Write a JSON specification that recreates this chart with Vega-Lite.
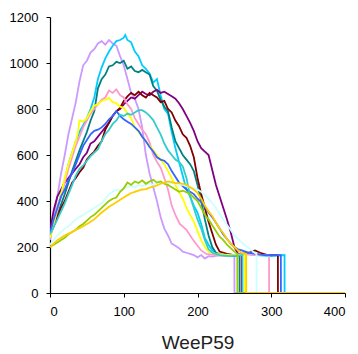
{
"$schema":"https://vega.github.io/schema/vega-lite/v6.json",
"width":295,"height":276,
"autosize":{"type":"none"},
"padding":{"left":50,"top":17,"right":13,"bottom":61},
"config":{"view":{"stroke":null},"font":"Liberation Sans"},
"datasets":{"d":[
{"s":"a","x":0,"y":230},{"s":"a","x":5,"y":330},{"s":"a","x":10,"y":420},{"s":"a","x":15,"y":520},{"s":"a","x":20,"y":600},{"s":"a","x":25,"y":690},{"s":"a","x":30,"y":760},{"s":"a","x":35,"y":830},{"s":"a","x":40,"y":920},{"s":"a","x":45,"y":990},{"s":"a","x":50,"y":1010},{"s":"a","x":55,"y":1045},{"s":"a","x":60,"y":1060},{"s":"a","x":65,"y":1085},{"s":"a","x":70,"y":1095},{"s":"a","x":75,"y":1080},{"s":"a","x":80,"y":1100},{"s":"a","x":85,"y":1085},{"s":"a","x":90,"y":1075},{"s":"a","x":95,"y":1030},{"s":"a","x":100,"y":990},{"s":"a","x":105,"y":930},{"s":"a","x":110,"y":870},{"s":"a","x":115,"y":845},{"s":"a","x":120,"y":800},{"s":"a","x":125,"y":720},{"s":"a","x":130,"y":600},{"s":"a","x":135,"y":520},{"s":"a","x":140,"y":460},{"s":"a","x":145,"y":400},{"s":"a","x":150,"y":330},{"s":"a","x":155,"y":280},{"s":"a","x":160,"y":250},{"s":"a","x":165,"y":215},{"s":"a","x":170,"y":205},{"s":"a","x":175,"y":195},{"s":"a","x":180,"y":180},{"s":"a","x":185,"y":175},{"s":"a","x":190,"y":170},{"s":"a","x":195,"y":165},{"s":"a","x":200,"y":155},{"s":"a","x":205,"y":165},{"s":"a","x":210,"y":150},{"s":"a","x":215,"y":160},{"s":"a","x":220,"y":158},{"s":"a","x":230,"y":165},{"s":"a","x":240,"y":160},{"s":"a","x":250,"y":162},{"s":"a","x":250.1,"y":0},{"s":"a","x":400,"y":0},
{"s":"b","x":0,"y":250},{"s":"b","x":5,"y":310},{"s":"b","x":10,"y":370},{"s":"b","x":15,"y":430},{"s":"b","x":20,"y":490},{"s":"b","x":25,"y":560},{"s":"b","x":30,"y":610},{"s":"b","x":35,"y":660},{"s":"b","x":40,"y":700},{"s":"b","x":45,"y":730},{"s":"b","x":50,"y":760},{"s":"b","x":55,"y":800},{"s":"b","x":60,"y":850},{"s":"b","x":65,"y":930},{"s":"b","x":70,"y":980},{"s":"b","x":75,"y":1020},{"s":"b","x":80,"y":1050},{"s":"b","x":85,"y":1075},{"s":"b","x":90,"y":1095},{"s":"b","x":95,"y":1100},{"s":"b","x":100,"y":1110},{"s":"b","x":102,"y":1122},{"s":"b","x":105,"y":1100},{"s":"b","x":110,"y":1090},{"s":"b","x":115,"y":1050},{"s":"b","x":120,"y":1030},{"s":"b","x":125,"y":990},{"s":"b","x":130,"y":975},{"s":"b","x":135,"y":955},{"s":"b","x":140,"y":915},{"s":"b","x":145,"y":930},{"s":"b","x":150,"y":860},{"s":"b","x":155,"y":800},{"s":"b","x":160,"y":780},{"s":"b","x":165,"y":700},{"s":"b","x":170,"y":630},{"s":"b","x":175,"y":570},{"s":"b","x":180,"y":510},{"s":"b","x":185,"y":450},{"s":"b","x":190,"y":420},{"s":"b","x":195,"y":380},{"s":"b","x":200,"y":350},{"s":"b","x":205,"y":300},{"s":"b","x":210,"y":240},{"s":"b","x":215,"y":210},{"s":"b","x":220,"y":185},{"s":"b","x":225,"y":170},{"s":"b","x":235,"y":165},{"s":"b","x":250,"y":160},{"s":"b","x":265,"y":170},{"s":"b","x":280,"y":165},{"s":"b","x":300,"y":160},{"s":"b","x":318,"y":165},{"s":"b","x":318.1,"y":0},{"s":"b","x":400,"y":0},
{"s":"c","x":0,"y":260},{"s":"c","x":10,"y":340},{"s":"c","x":20,"y":430},{"s":"c","x":30,"y":530},{"s":"c","x":40,"y":620},{"s":"c","x":50,"y":700},{"s":"c","x":55,"y":750},{"s":"c","x":60,"y":790},{"s":"c","x":65,"y":890},{"s":"c","x":70,"y":930},{"s":"c","x":75,"y":950},{"s":"c","x":80,"y":985},{"s":"c","x":85,"y":990},{"s":"c","x":90,"y":1005},{"s":"c","x":95,"y":1000},{"s":"c","x":100,"y":1010},{"s":"c","x":105,"y":975},{"s":"c","x":110,"y":985},{"s":"c","x":115,"y":965},{"s":"c","x":120,"y":960},{"s":"c","x":125,"y":970},{"s":"c","x":130,"y":960},{"s":"c","x":135,"y":950},{"s":"c","x":140,"y":900},{"s":"c","x":145,"y":880},{"s":"c","x":150,"y":840},{"s":"c","x":155,"y":810},{"s":"c","x":160,"y":790},{"s":"c","x":165,"y":720},{"s":"c","x":170,"y":660},{"s":"c","x":175,"y":630},{"s":"c","x":180,"y":600},{"s":"c","x":185,"y":580},{"s":"c","x":190,"y":560},{"s":"c","x":195,"y":530},{"s":"c","x":200,"y":470},{"s":"c","x":205,"y":400},{"s":"c","x":210,"y":320},{"s":"c","x":215,"y":250},{"s":"c","x":220,"y":200},{"s":"c","x":225,"y":175},{"s":"c","x":235,"y":165},{"s":"c","x":245,"y":160},{"s":"c","x":257,"y":165},{"s":"c","x":257.1,"y":0},{"s":"c","x":400,"y":0},
{"s":"d","x":0,"y":270},{"s":"d","x":5,"y":360},{"s":"d","x":10,"y":420},{"s":"d","x":15,"y":450},{"s":"d","x":20,"y":480},{"s":"d","x":25,"y":500},{"s":"d","x":30,"y":520},{"s":"d","x":35,"y":540},{"s":"d","x":40,"y":560},{"s":"d","x":45,"y":590},{"s":"d","x":50,"y":610},{"s":"d","x":55,"y":650},{"s":"d","x":60,"y":660},{"s":"d","x":65,"y":680},{"s":"d","x":70,"y":700},{"s":"d","x":75,"y":720},{"s":"d","x":80,"y":740},{"s":"d","x":85,"y":770},{"s":"d","x":90,"y":790},{"s":"d","x":95,"y":800},{"s":"d","x":100,"y":820},{"s":"d","x":105,"y":835},{"s":"d","x":110,"y":850},{"s":"d","x":115,"y":845},{"s":"d","x":120,"y":860},{"s":"d","x":125,"y":875},{"s":"d","x":130,"y":865},{"s":"d","x":135,"y":860},{"s":"d","x":140,"y":875},{"s":"d","x":145,"y":883},{"s":"d","x":150,"y":870},{"s":"d","x":155,"y":875},{"s":"d","x":160,"y":865},{"s":"d","x":165,"y":855},{"s":"d","x":170,"y":845},{"s":"d","x":175,"y":825},{"s":"d","x":180,"y":800},{"s":"d","x":185,"y":770},{"s":"d","x":190,"y":740},{"s":"d","x":195,"y":705},{"s":"d","x":200,"y":660},{"s":"d","x":205,"y":630},{"s":"d","x":210,"y":615},{"s":"d","x":215,"y":600},{"s":"d","x":220,"y":535},{"s":"d","x":225,"y":470},{"s":"d","x":230,"y":420},{"s":"d","x":235,"y":370},{"s":"d","x":240,"y":320},{"s":"d","x":245,"y":265},{"s":"d","x":250,"y":200},{"s":"d","x":255,"y":170},{"s":"d","x":260,"y":165},{"s":"d","x":260.1,"y":0},{"s":"d","x":400,"y":0},
{"s":"e","x":0,"y":250},{"s":"e","x":5,"y":290},{"s":"e","x":10,"y":330},{"s":"e","x":15,"y":370},{"s":"e","x":20,"y":400},{"s":"e","x":25,"y":440},{"s":"e","x":30,"y":480},{"s":"e","x":35,"y":500},{"s":"e","x":40,"y":525},{"s":"e","x":45,"y":545},{"s":"e","x":50,"y":580},{"s":"e","x":55,"y":600},{"s":"e","x":60,"y":615},{"s":"e","x":65,"y":640},{"s":"e","x":70,"y":660},{"s":"e","x":75,"y":710},{"s":"e","x":80,"y":740},{"s":"e","x":85,"y":770},{"s":"e","x":90,"y":790},{"s":"e","x":95,"y":805},{"s":"e","x":100,"y":835},{"s":"e","x":105,"y":855},{"s":"e","x":110,"y":870},{"s":"e","x":115,"y":860},{"s":"e","x":120,"y":875},{"s":"e","x":125,"y":860},{"s":"e","x":130,"y":850},{"s":"e","x":135,"y":870},{"s":"e","x":140,"y":860},{"s":"e","x":145,"y":850},{"s":"e","x":150,"y":830},{"s":"e","x":155,"y":835},{"s":"e","x":160,"y":800},{"s":"e","x":165,"y":785},{"s":"e","x":170,"y":750},{"s":"e","x":175,"y":725},{"s":"e","x":180,"y":690},{"s":"e","x":185,"y":675},{"s":"e","x":190,"y":640},{"s":"e","x":195,"y":590},{"s":"e","x":200,"y":500},{"s":"e","x":205,"y":430},{"s":"e","x":210,"y":370},{"s":"e","x":215,"y":310},{"s":"e","x":220,"y":260},{"s":"e","x":225,"y":210},{"s":"e","x":230,"y":180},{"s":"e","x":240,"y":170},{"s":"e","x":250,"y":165},{"s":"e","x":260,"y":170},{"s":"e","x":270,"y":175},{"s":"e","x":278,"y":185},{"s":"e","x":285,"y":175},{"s":"e","x":295,"y":165},{"s":"e","x":309,"y":165},{"s":"e","x":309.1,"y":0},{"s":"e","x":400,"y":0},
{"s":"f","x":0,"y":240},{"s":"f","x":5,"y":300},{"s":"f","x":10,"y":360},{"s":"f","x":15,"y":420},{"s":"f","x":20,"y":480},{"s":"f","x":25,"y":540},{"s":"f","x":30,"y":590},{"s":"f","x":35,"y":640},{"s":"f","x":40,"y":680},{"s":"f","x":45,"y":720},{"s":"f","x":50,"y":750},{"s":"f","x":55,"y":780},{"s":"f","x":60,"y":800},{"s":"f","x":65,"y":820},{"s":"f","x":70,"y":840},{"s":"f","x":75,"y":850},{"s":"f","x":80,"y":880},{"s":"f","x":85,"y":870},{"s":"f","x":90,"y":885},{"s":"f","x":95,"y":860},{"s":"f","x":100,"y":850},{"s":"f","x":105,"y":820},{"s":"f","x":110,"y":800},{"s":"f","x":115,"y":760},{"s":"f","x":120,"y":735},{"s":"f","x":125,"y":710},{"s":"f","x":130,"y":690},{"s":"f","x":135,"y":655},{"s":"f","x":140,"y":600},{"s":"f","x":145,"y":570},{"s":"f","x":150,"y":545},{"s":"f","x":155,"y":500},{"s":"f","x":160,"y":450},{"s":"f","x":165,"y":380},{"s":"f","x":170,"y":340},{"s":"f","x":176,"y":300},{"s":"f","x":185,"y":275},{"s":"f","x":192,"y":240},{"s":"f","x":199,"y":210},{"s":"f","x":205,"y":185},{"s":"f","x":212,"y":170},{"s":"f","x":225,"y":165},{"s":"f","x":240,"y":160},{"s":"f","x":260,"y":170},{"s":"f","x":280,"y":165},{"s":"f","x":297,"y":165},{"s":"f","x":297.1,"y":0},{"s":"f","x":400,"y":0},
{"s":"g","x":0,"y":240},{"s":"g","x":5,"y":300},{"s":"g","x":10,"y":370},{"s":"g","x":15,"y":430},{"s":"g","x":20,"y":500},{"s":"g","x":25,"y":560},{"s":"g","x":30,"y":610},{"s":"g","x":35,"y":660},{"s":"g","x":38,"y":700},{"s":"g","x":40,"y":750},{"s":"g","x":45,"y":745},{"s":"g","x":50,"y":760},{"s":"g","x":55,"y":790},{"s":"g","x":60,"y":815},{"s":"g","x":65,"y":820},{"s":"g","x":70,"y":835},{"s":"g","x":75,"y":840},{"s":"g","x":80,"y":848},{"s":"g","x":85,"y":830},{"s":"g","x":90,"y":825},{"s":"g","x":95,"y":810},{"s":"g","x":100,"y":805},{"s":"g","x":105,"y":780},{"s":"g","x":110,"y":760},{"s":"g","x":115,"y":720},{"s":"g","x":120,"y":700},{"s":"g","x":125,"y":680},{"s":"g","x":130,"y":660},{"s":"g","x":135,"y":640},{"s":"g","x":140,"y":620},{"s":"g","x":145,"y":600},{"s":"g","x":150,"y":580},{"s":"g","x":155,"y":560},{"s":"g","x":160,"y":530},{"s":"g","x":165,"y":500},{"s":"g","x":170,"y":470},{"s":"g","x":175,"y":440},{"s":"g","x":180,"y":410},{"s":"g","x":185,"y":370},{"s":"g","x":190,"y":340},{"s":"g","x":195,"y":310},{"s":"g","x":200,"y":270},{"s":"g","x":205,"y":230},{"s":"g","x":210,"y":200},{"s":"g","x":215,"y":180},{"s":"g","x":225,"y":170},{"s":"g","x":245,"y":165},{"s":"g","x":264,"y":165},{"s":"g","x":264.1,"y":0},{"s":"g","x":400,"y":0},
{"s":"h","x":0,"y":260},{"s":"h","x":5,"y":320},{"s":"h","x":10,"y":370},{"s":"h","x":15,"y":420},{"s":"h","x":20,"y":450},{"s":"h","x":25,"y":490},{"s":"h","x":30,"y":520},{"s":"h","x":35,"y":560},{"s":"h","x":40,"y":600},{"s":"h","x":45,"y":640},{"s":"h","x":50,"y":665},{"s":"h","x":55,"y":690},{"s":"h","x":60,"y":705},{"s":"h","x":65,"y":710},{"s":"h","x":70,"y":720},{"s":"h","x":75,"y":735},{"s":"h","x":80,"y":755},{"s":"h","x":85,"y":770},{"s":"h","x":90,"y":790},{"s":"h","x":95,"y":770},{"s":"h","x":100,"y":755},{"s":"h","x":105,"y":745},{"s":"h","x":110,"y":735},{"s":"h","x":115,"y":720},{"s":"h","x":120,"y":705},{"s":"h","x":125,"y":680},{"s":"h","x":130,"y":660},{"s":"h","x":135,"y":635},{"s":"h","x":140,"y":615},{"s":"h","x":145,"y":590},{"s":"h","x":150,"y":580},{"s":"h","x":155,"y":575},{"s":"h","x":160,"y":560},{"s":"h","x":165,"y":530},{"s":"h","x":170,"y":505},{"s":"h","x":175,"y":480},{"s":"h","x":180,"y":465},{"s":"h","x":185,"y":450},{"s":"h","x":190,"y":440},{"s":"h","x":195,"y":430},{"s":"h","x":200,"y":410},{"s":"h","x":205,"y":395},{"s":"h","x":210,"y":375},{"s":"h","x":215,"y":350},{"s":"h","x":220,"y":330},{"s":"h","x":225,"y":305},{"s":"h","x":230,"y":280},{"s":"h","x":235,"y":255},{"s":"h","x":240,"y":235},{"s":"h","x":245,"y":215},{"s":"h","x":250,"y":200},{"s":"h","x":255,"y":190},{"s":"h","x":260,"y":185},{"s":"h","x":270,"y":175},{"s":"h","x":280,"y":170},{"s":"h","x":290,"y":165},{"s":"h","x":300,"y":165},{"s":"h","x":313,"y":165},{"s":"h","x":313.1,"y":0},{"s":"h","x":400,"y":0},
{"s":"i","x":0,"y":255},{"s":"i","x":10,"y":320},{"s":"i","x":20,"y":390},{"s":"i","x":30,"y":470},{"s":"i","x":35,"y":510},{"s":"i","x":40,"y":540},{"s":"i","x":45,"y":555},{"s":"i","x":50,"y":575},{"s":"i","x":55,"y":595},{"s":"i","x":60,"y":610},{"s":"i","x":65,"y":625},{"s":"i","x":70,"y":660},{"s":"i","x":75,"y":690},{"s":"i","x":80,"y":710},{"s":"i","x":85,"y":735},{"s":"i","x":90,"y":750},{"s":"i","x":95,"y":775},{"s":"i","x":100,"y":770},{"s":"i","x":105,"y":780},{"s":"i","x":110,"y":775},{"s":"i","x":115,"y":785},{"s":"i","x":120,"y":795},{"s":"i","x":125,"y":795},{"s":"i","x":130,"y":785},{"s":"i","x":135,"y":770},{"s":"i","x":140,"y":752},{"s":"i","x":145,"y":720},{"s":"i","x":150,"y":690},{"s":"i","x":155,"y":650},{"s":"i","x":160,"y":620},{"s":"i","x":165,"y":600},{"s":"i","x":170,"y":580},{"s":"i","x":175,"y":570},{"s":"i","x":180,"y":550},{"s":"i","x":185,"y":500},{"s":"i","x":190,"y":420},{"s":"i","x":195,"y":370},{"s":"i","x":200,"y":320},{"s":"i","x":205,"y":280},{"s":"i","x":210,"y":230},{"s":"i","x":215,"y":190},{"s":"i","x":220,"y":175},{"s":"i","x":230,"y":165},{"s":"i","x":245,"y":160},{"s":"i","x":261,"y":165},{"s":"i","x":261.1,"y":0},{"s":"i","x":400,"y":0},
{"s":"j","x":0,"y":210},{"s":"j","x":5,"y":230},{"s":"j","x":10,"y":250},{"s":"j","x":15,"y":265},{"s":"j","x":20,"y":280},{"s":"j","x":25,"y":290},{"s":"j","x":30,"y":305},{"s":"j","x":35,"y":320},{"s":"j","x":40,"y":330},{"s":"j","x":45,"y":340},{"s":"j","x":50,"y":350},{"s":"j","x":55,"y":360},{"s":"j","x":60,"y":370},{"s":"j","x":65,"y":380},{"s":"j","x":70,"y":390},{"s":"j","x":75,"y":410},{"s":"j","x":80,"y":430},{"s":"j","x":85,"y":440},{"s":"j","x":90,"y":450},{"s":"j","x":95,"y":445},{"s":"j","x":100,"y":455},{"s":"j","x":105,"y":460},{"s":"j","x":110,"y":465},{"s":"j","x":115,"y":460},{"s":"j","x":120,"y":470},{"s":"j","x":125,"y":465},{"s":"j","x":130,"y":470},{"s":"j","x":135,"y":475},{"s":"j","x":140,"y":470},{"s":"j","x":145,"y":480},{"s":"j","x":150,"y":478},{"s":"j","x":155,"y":475},{"s":"j","x":160,"y":480},{"s":"j","x":165,"y":478},{"s":"j","x":170,"y":475},{"s":"j","x":175,"y":470},{"s":"j","x":180,"y":470},{"s":"j","x":185,"y":465},{"s":"j","x":190,"y":460},{"s":"j","x":195,"y":455},{"s":"j","x":200,"y":450},{"s":"j","x":205,"y":440},{"s":"j","x":210,"y":425},{"s":"j","x":215,"y":410},{"s":"j","x":220,"y":390},{"s":"j","x":225,"y":370},{"s":"j","x":230,"y":345},{"s":"j","x":235,"y":320},{"s":"j","x":240,"y":295},{"s":"j","x":245,"y":275},{"s":"j","x":250,"y":250},{"s":"j","x":255,"y":235},{"s":"j","x":260,"y":220},{"s":"j","x":265,"y":205},{"s":"j","x":270,"y":195},{"s":"j","x":275,"y":180},{"s":"j","x":280,"y":170},{"s":"j","x":280.1,"y":0},{"s":"j","x":400,"y":0},
{"s":"k","x":0,"y":200},{"s":"k","x":5,"y":210},{"s":"k","x":10,"y":220},{"s":"k","x":15,"y":230},{"s":"k","x":20,"y":240},{"s":"k","x":25,"y":255},{"s":"k","x":30,"y":265},{"s":"k","x":35,"y":275},{"s":"k","x":40,"y":290},{"s":"k","x":45,"y":300},{"s":"k","x":50,"y":315},{"s":"k","x":55,"y":330},{"s":"k","x":60,"y":340},{"s":"k","x":65,"y":355},{"s":"k","x":70,"y":370},{"s":"k","x":75,"y":385},{"s":"k","x":80,"y":400},{"s":"k","x":85,"y":410},{"s":"k","x":90,"y":415},{"s":"k","x":95,"y":440},{"s":"k","x":100,"y":455},{"s":"k","x":105,"y":480},{"s":"k","x":110,"y":470},{"s":"k","x":115,"y":485},{"s":"k","x":120,"y":478},{"s":"k","x":125,"y":490},{"s":"k","x":130,"y":475},{"s":"k","x":135,"y":485},{"s":"k","x":140,"y":492},{"s":"k","x":145,"y":480},{"s":"k","x":150,"y":485},{"s":"k","x":155,"y":475},{"s":"k","x":160,"y":470},{"s":"k","x":165,"y":460},{"s":"k","x":170,"y":450},{"s":"k","x":175,"y":440},{"s":"k","x":180,"y":445},{"s":"k","x":185,"y":438},{"s":"k","x":190,"y":430},{"s":"k","x":195,"y":415},{"s":"k","x":200,"y":400},{"s":"k","x":205,"y":370},{"s":"k","x":210,"y":340},{"s":"k","x":215,"y":320},{"s":"k","x":220,"y":295},{"s":"k","x":225,"y":270},{"s":"k","x":230,"y":245},{"s":"k","x":235,"y":230},{"s":"k","x":240,"y":210},{"s":"k","x":245,"y":195},{"s":"k","x":250,"y":180},{"s":"k","x":254,"y":170},{"s":"k","x":254.1,"y":0},{"s":"k","x":400,"y":0},
{"s":"l","x":0,"y":200},{"s":"l","x":5,"y":215},{"s":"l","x":10,"y":230},{"s":"l","x":15,"y":240},{"s":"l","x":20,"y":250},{"s":"l","x":25,"y":258},{"s":"l","x":30,"y":265},{"s":"l","x":35,"y":275},{"s":"l","x":40,"y":282},{"s":"l","x":45,"y":290},{"s":"l","x":50,"y":300},{"s":"l","x":55,"y":310},{"s":"l","x":60,"y":320},{"s":"l","x":65,"y":335},{"s":"l","x":70,"y":350},{"s":"l","x":75,"y":362},{"s":"l","x":80,"y":375},{"s":"l","x":85,"y":385},{"s":"l","x":90,"y":395},{"s":"l","x":95,"y":405},{"s":"l","x":100,"y":415},{"s":"l","x":105,"y":425},{"s":"l","x":110,"y":435},{"s":"l","x":115,"y":440},{"s":"l","x":120,"y":445},{"s":"l","x":125,"y":450},{"s":"l","x":130,"y":452},{"s":"l","x":135,"y":458},{"s":"l","x":140,"y":462},{"s":"l","x":145,"y":468},{"s":"l","x":150,"y":475},{"s":"l","x":155,"y":480},{"s":"l","x":160,"y":485},{"s":"l","x":165,"y":482},{"s":"l","x":170,"y":478},{"s":"l","x":175,"y":478},{"s":"l","x":180,"y":475},{"s":"l","x":185,"y":470},{"s":"l","x":190,"y":460},{"s":"l","x":195,"y":450},{"s":"l","x":200,"y":435},{"s":"l","x":205,"y":410},{"s":"l","x":210,"y":380},{"s":"l","x":215,"y":355},{"s":"l","x":220,"y":335},{"s":"l","x":225,"y":305},{"s":"l","x":230,"y":280},{"s":"l","x":235,"y":260},{"s":"l","x":240,"y":235},{"s":"l","x":245,"y":215},{"s":"l","x":250,"y":200},{"s":"l","x":255,"y":185},{"s":"l","x":260,"y":175},{"s":"l","x":266,"y":170},{"s":"l","x":266.1,"y":0},{"s":"l","x":400,"y":0}
]},
"data":{"name":"d"},
"mark":{"type":"line","strokeWidth":1.8,"clip":true},
"encoding":{
"x":{"field":"x","type":"quantitative","scale":{"domain":[0,400],"nice":false},"axis":{"values":[0,100,200,300,400],"format":"d","title":"WeeP59","grid":false,"domainColor":"#000","domainWidth":1.2,"tickColor":"#000","tickSize":4,"labelPadding":8,"labelFontSize":13,"labelColor":"#000","labelFont":"Liberation Sans","titleFont":"Liberation Sans","titleFontSize":19,"titleFontWeight":"normal","titleColor":"#222","titlePadding":15}},
"y":{"field":"y","type":"quantitative","scale":{"domain":[0,1200],"nice":false},"axis":{"values":[0,200,400,600,800,1000,1200],"format":"d","title":null,"grid":false,"domainColor":"#000","domainWidth":1.2,"tickColor":"#000","tickSize":4,"labelPadding":8,"labelFontSize":13,"labelColor":"#000","labelFont":"Liberation Sans"}},
"color":{"field":"s","type":"nominal","legend":null,"scale":{"domain":["a","b","c","d","e","f","g","h","i","j","k","l"],"range":["#cc99ff","#00ccff","#008080","#800080","#800000","#ff99cc","#ffff00","#3366ff","#33cccc","#ccffff","#99cc00","#ffcc00"]}}
}
}
